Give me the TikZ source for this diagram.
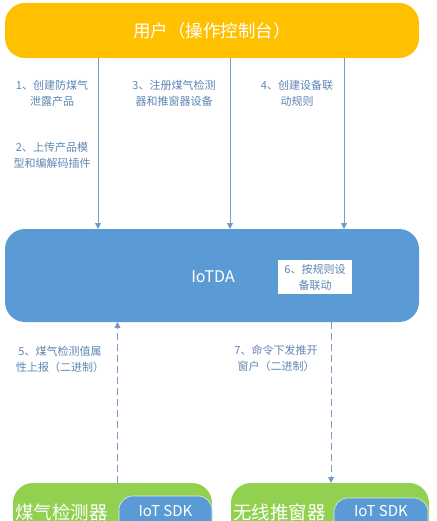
\documentclass[tikz,border=0pt]{standalone}
\usepackage{fontspec}
\setmainfont{Noto Sans CJK SC}
\usetikzlibrary{arrows.meta}
\definecolor{uyellow}{HTML}{FFC000}
\definecolor{iblue}{HTML}{5B9BD5}
\definecolor{dgreen}{HTML}{92D050}
\definecolor{lblue}{HTML}{5E86B5}
\definecolor{ablue}{HTML}{7A9CC9}
\tikzset{
  lbl/.style={text=lblue, font=\fontsize{11}{16}\selectfont, align=center, inner sep=0pt},
  conn/.style={draw=ablue, line width=0.9pt, -{Triangle[length=6pt,width=6pt,fill=iblue]}},
  dconn/.style={conn, dash pattern=on 7pt off 4pt},
}
\begin{document}
\begin{tikzpicture}[x=1pt,y=-1pt]
\useasboundingbox (0,0) rectangle (436,521);
\clip (0,0) rectangle (436,521);
\fill[white] (0,0) rectangle (436,521);
% user box
\node[fill=uyellow, rounded corners=20pt, minimum width=414pt, minimum height=55pt, inner sep=0pt,
      text=white, font=\fontsize{17.5}{20}\selectfont] (user) at (212,30.5) {用户（操作控制台）};
% IoTDA box
\node[fill=iblue, rounded corners=20pt, minimum width=414pt, minimum height=93pt, inner sep=0pt] (iot) at (212,275.5) {};
\node[text=white, font=\fontsize{16}{20}\selectfont, inner sep=0pt] (iotlbl) at (213,277) {IoTDA};
\node[fill=white, minimum width=74pt, minimum height=34pt, inner sep=0pt, text=lblue,
      font=\fontsize{11}{16}\selectfont, align=center] (rule) at (315,277) {6、按规则设\\备联动};
% device boxes
\node[fill=dgreen, rounded corners=20pt, minimum width=199pt, minimum height=80pt, inner sep=0pt] (gas) at (112.5,523) {};
\node[fill=dgreen, rounded corners=20pt, minimum width=198pt, minimum height=80pt, inner sep=0pt] (win) at (330,523) {};
\node[text=white, font=\fontsize{18.5}{20}\selectfont, inner sep=0pt, anchor=west] (gaslbl) at (15,512) {煤气检测器};
\node[text=white, font=\fontsize{18.5}{20}\selectfont, inner sep=0pt, anchor=west] (winlbl) at (233,512) {无线推窗器};
\node[fill=iblue, draw=white!80!iblue, line width=0.6pt, rounded corners=14pt, minimum width=93pt, minimum height=50pt, inner sep=0pt] (sdk1) at (165.5,521) {};
\node[fill=iblue, draw=white!80!iblue, line width=0.6pt, rounded corners=14pt, minimum width=94pt, minimum height=50pt, inner sep=0pt] (sdk2) at (381,523) {};
\node[text=white, font=\fontsize{15}{18}\selectfont, inner sep=0pt] (sdk1lbl) at (165.5,511) {IoT SDK};
\node[text=white, font=\fontsize{15}{18}\selectfont, inner sep=0pt] (sdk2lbl) at (381,511) {IoT SDK};
% connectors
\coordinate (a1s) at (98,58); \coordinate (a1e) at (98,229);
\coordinate (a3s) at (230,58); \coordinate (a3e) at (230,229);
\coordinate (a4s) at (344,58); \coordinate (a4e) at (344,229);
\draw[conn] (a1s) -- (a1e);
\draw[conn] (a3s) -- (a3e);
\draw[conn] (a4s) -- (a4e);
\coordinate (d5s) at (117.5,483); \coordinate (d5e) at (117.5,322);
\coordinate (d7s) at (331,322); \coordinate (d7e) at (331,483);
\draw[dconn] (d5s) -- (d5e);
\draw[dconn] (d7s) -- (d7e);
% labels
\node[lbl] (l1) at (52,93) {1、创建防煤气\\泄露产品};
\node[lbl] (l2) at (52,155) {2、上传产品模\\型和编解码插件};
\node[lbl] (l3) at (174,93) {3、注册煤气检测\\器和推窗器设备};
\node[lbl] (l4) at (297,93) {4、创建设备联\\动规则};
\node[lbl] (l5) at (60,359) {5、煤气检测值属\\性上报（二进制）};
\node[lbl] (l7) at (276,358) {7、命令下发推开\\窗户（二进制）};
\end{tikzpicture}
\end{document}
